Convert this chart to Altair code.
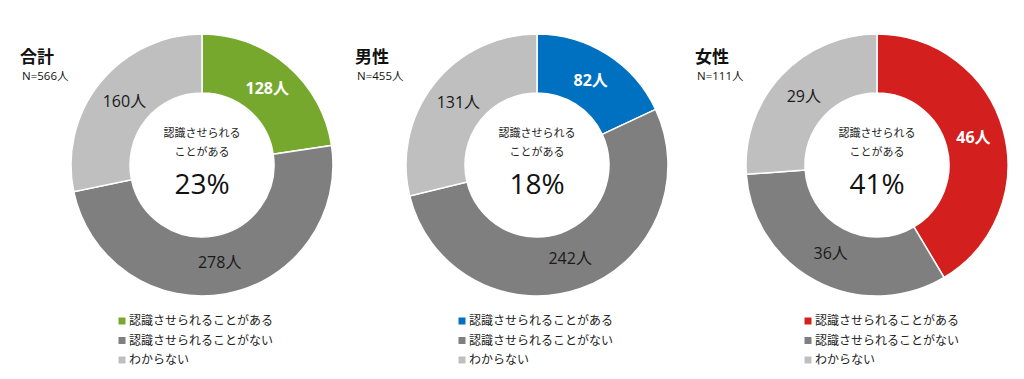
import altair as alt
import pandas as pd

panels = ["合計", "男性", "女性"]
totals = ["N=566人", "N=455人", "N=111人"]
categories = ["認識させられることがある", "認識させられることがない", "わからない"]
counts_total = [128, 278, 160]
counts_male = [82, 242, 131]
counts_female = [46, 36, 29]
percents = ["23%", "18%", "41%"]
center_line1 = "認識させられる"
center_line2 = "ことがある"

first_colors = ["#77A82E", "#0070C0", "#D41F1F"]
dark_gray = "#7F7F7F"
light_gray = "#BFBFBF"

FONT = "Open Sans, Noto Sans CJK JP"
CJK = "Noto Sans CJK JP"

all_counts = [counts_total, counts_male, counts_female]
rows = []
keys, key_colors = [], []
for p, name in enumerate(panels):
    for i, cat in enumerate(categories):
        key = f"{name}-{i}"
        rows.append({"panel": name, "cat": cat, "idx": i, "count": all_counts[p][i],
                     "label": f"{all_counts[p][i]}人", "key": key})
        keys.append(key)
        key_colors.append([first_colors[p], dark_gray, light_gray][i])
df = pd.DataFrame(rows)

color_scale = alt.Scale(domain=keys, range=key_colors)

centers_x = [194, 529, 869]
center_y = 157
title_x = [12, 347, 687]
n_x = [14, 349, 689]
legend_sq_x = [114, 454, 800]
legend_tx_x = [121, 461, 807]

layers = []
for p, name in enumerate(panels):
    cx = centers_x[p]
    base = alt.Chart(df).transform_filter(alt.datum.panel == name)
    arc = base.mark_arc(innerRadius=72, outerRadius=131, stroke="white", strokeWidth=1.5).encode(
        theta=alt.Theta("count:Q", stack="normalize"),
        order=alt.Order("idx:Q", sort="ascending"),
        color=alt.Color("key:N", scale=color_scale, legend=None),
        x=alt.value(cx), y=alt.value(center_y),
    )
    lab_w = base.mark_text(
        radius=100, font=FONT, fontSize=16, fontWeight="bold", align="center", baseline="middle", color="white"
    ).encode(
        theta=alt.Theta("count:Q", stack="normalize"),
        order=alt.Order("idx:Q", sort="ascending"),
        text="label:N",
        opacity=alt.condition("datum.idx == 0", alt.value(1), alt.value(0)),
        x=alt.value(cx), y=alt.value(center_y),
    )
    lab_d = base.mark_text(
        radius=100, font=FONT, fontSize=16, align="center", baseline="middle", color="#1a1a1a"
    ).encode(
        theta=alt.Theta("count:Q", stack="normalize"),
        order=alt.Order("idx:Q", sort="ascending"),
        text="label:N",
        opacity=alt.condition("datum.idx == 0", alt.value(0), alt.value(1)),
        x=alt.value(cx), y=alt.value(center_y),
    )
    one = pd.DataFrame({"title": [name], "n": [totals[p]], "pct": [percents[p]],
                        "l1": [center_line1], "l2": [center_line2]})
    tchart = alt.Chart(one)
    title = tchart.mark_text(font=CJK, fontSize=17, fontWeight="bold", align="left", baseline="middle", color="#111").encode(
        text="title:N", x=alt.value(title_x[p]), y=alt.value(50))
    ntext = tchart.mark_text(font=FONT, fontSize=11.5, align="left", baseline="middle", color="#111").encode(
        text="n:N", x=alt.value(n_x[p]), y=alt.value(69))
    c1 = tchart.mark_text(font=CJK, fontSize=11, align="center", baseline="middle", color="#222").encode(
        text="l1:N", x=alt.value(cx), y=alt.value(126))
    c2 = tchart.mark_text(font=CJK, fontSize=11, align="center", baseline="middle", color="#222").encode(
        text="l2:N", x=alt.value(cx), y=alt.value(145))
    pct = tchart.mark_text(font=FONT, fontSize=28, align="center", baseline="middle", color="#111").encode(
        text="pct:N", x=alt.value(cx), y=alt.value(178))
    leg_y = alt.Y("idx:Q", scale=alt.Scale(domain=[0, 2], range=[313, 352]), axis=None)
    sq = base.mark_square(size=49, opacity=1).encode(
        x=alt.value(legend_sq_x[p]), y=leg_y,
        color=alt.Color("key:N", scale=color_scale, legend=None))
    lt = base.mark_text(font=CJK, fontSize=12, align="left", baseline="middle", color="#222").encode(
        x=alt.value(legend_tx_x[p]), y=leg_y, text="cat:N")
    layers += [arc, lab_w, lab_d, title, ntext, c1, c2, pct, sq, lt]

chart = alt.layer(*layers).properties(
    width=1008, height=363, autosize=alt.AutoSizeParams(type="none"), padding=0
).configure_view(stroke=None)

chart.save("out.html", embed_options={"renderer": "svg", "actions": False})
